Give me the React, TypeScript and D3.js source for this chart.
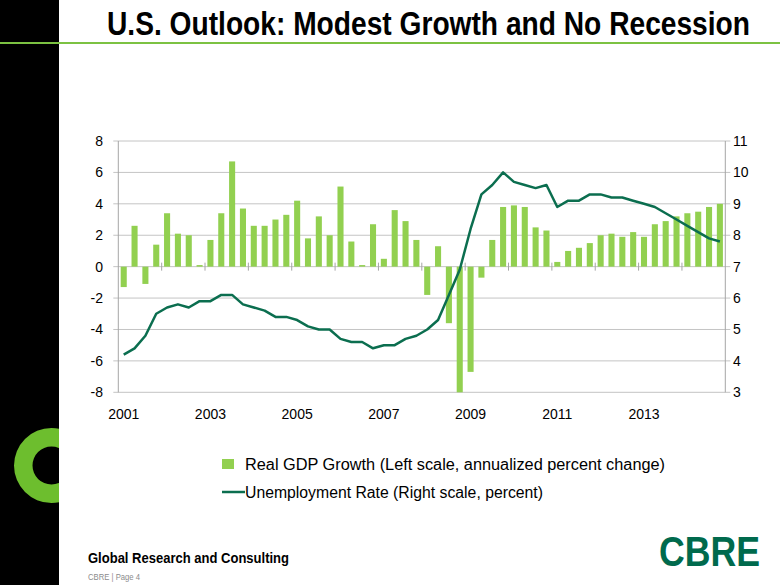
import React from "react";
import * as d3 from "d3";

const years = [2001, 2002, 2003, 2004, 2005, 2006, 2007, 2008, 2009, 2010, 2011, 2012, 2013, 2014];
const quarters: string[] = years.flatMap((y) => ["Q1", "Q2", "Q3", "Q4"].map((q) => `${y}${q}`));

// Real GDP growth, annualized percent change (left scale)
const gdpGrowth = [
  -1.3, 2.6, -1.1, 1.4,
  3.4, 2.1, 2.0, 0.1,
  1.7, 3.4, 6.7, 3.7,
  2.6, 2.6, 3.0, 3.3,
  4.2, 1.8, 3.2, 2.0,
  5.1, 1.6, 0.1, 2.7,
  0.5, 3.6, 2.9, 1.7,
  -1.8, 1.3, -3.6, -8.0,
  -6.7, -0.7, 1.7, 3.8,
  3.9, 3.8, 2.5, 2.3,
  0.3, 1.0, 1.2, 1.5,
  2.0, 2.1, 1.9, 2.2,
  1.9, 2.7, 2.9, 3.2,
  3.4, 3.5, 3.8, 4.0,
];

// Unemployment rate, percent (right scale)
const unemployment = [
  4.2, 4.4, 4.8, 5.5,
  5.7, 5.8, 5.7, 5.9,
  5.9, 6.1, 6.1, 5.8,
  5.7, 5.6, 5.4, 5.4,
  5.3, 5.1, 5.0, 5.0,
  4.7, 4.6, 4.6, 4.4,
  4.5, 4.5, 4.7, 4.8,
  5.0, 5.3, 6.1, 6.9,
  8.2, 9.3, 9.6, 10.0,
  9.7, 9.6, 9.5, 9.6,
  8.9, 9.1, 9.1, 9.3,
  9.3, 9.2, 9.2, 9.1,
  9.0, 8.9, 8.7, 8.5,
  8.3, 8.1, 7.9, 7.8,
];

const xTickLabels = ["2001", "2003", "2005", "2007", "2009", "2011", "2013"];
const leftTicks = [-8, -6, -4, -2, 0, 2, 4, 6, 8];
const rightTicks = [3, 4, 5, 6, 7, 8, 9, 10, 11];

const legendGdp = "Real GDP Growth (Left scale, annualized percent change)";
const legendUnemp = "Unemployment Rate (Right scale, percent)";
const title = "U.S. Outlook: Modest Growth and No Recession";

const W = 780;
const H = 585;
const FONT = "'Liberation Sans', Arial, sans-serif";
const BAR = "#92D050";
const LINE = "#0B6E4F";
const GRID = "#C4C4C4";
const AXIS = "#A6A6A6";

export default function App() {
  const x = d3.scaleBand<string>().domain(quarters).range([118.3, 725.3]).padding(0);
  const yL = d3.scaleLinear().domain([-8, 8]).range([392.3, 141]);
  const yR = d3.scaleLinear().domain([3, 11]).range([392.3, 141]);
  const bw = x.bandwidth();
  const barW = bw * 0.56;
  const cx = (q: string) => (x(q) as number) + bw / 2;

  const line = d3
    .line<number>()
    .x((_, i) => cx(quarters[i]))
    .y((d) => yR(d));

  const [x0, x1] = x.range();
  const zeroY = yL(0);

  // C logo ring
  const ringCx = 51.5, ringCy = 465.5, rOut = 37.5, rIn = 19;
  const ring = d3.arc()({ innerRadius: rIn, outerRadius: rOut, startAngle: 0, endAngle: Math.PI * 2 }) as string;

  const titleSx = 0.83;
  const footSx = 0.9;
  const logoSx = 0.85;

  return (
    <svg
      width={W}
      height={H}
      viewBox={`0 0 ${W} ${H}`}
      style={{ position: "absolute", left: 0, top: 0, background: "#fff", fontFamily: FONT }}
    >
      <rect x={0} y={0} width={W} height={H} fill="#fff" />
      {/* left black band */}
      <rect x={0} y={0} width={59} height={H} fill="#000" />
      <defs>
        <clipPath id="bandClip">
          <rect x={0} y={0} width={59} height={H} />
        </clipPath>
      </defs>
      <g clipPath="url(#bandClip)">
        <path d={ring} transform={`translate(${ringCx},${ringCy})`} fill="#6DBE2E" />
      </g>
      {/* title */}
      <g transform={`translate(107,35) scale(${titleSx},1)`}>
        <text x={0} y={0} fontSize={33} fontWeight="bold" fill="#000" textLength={643 / titleSx} lengthAdjust="spacingAndGlyphs">
          {title}
        </text>
      </g>
      <rect x={0} y={42} width={W} height={2} fill="#7CC242" />

      {/* gridlines */}
      {leftTicks.map((t) => (
        <line key={`g${t}`} x1={x0 - 5} x2={x1 + 5} y1={yL(t)} y2={yL(t)} stroke={GRID} strokeWidth={1} />
      ))}
      {/* axes */}
      <line x1={x0} x2={x0} y1={yL(8)} y2={yL(-8)} stroke={AXIS} strokeWidth={1} />
      <line x1={x1} x2={x1} y1={yL(8)} y2={yL(-8)} stroke={AXIS} strokeWidth={1} />

      {/* bars */}
      {gdpGrowth.map((v, i) => {
        const q = quarters[i];
        const y0 = yL(Math.max(0, v));
        const y1 = yL(Math.min(0, v));
        return <rect key={q} x={cx(q) - barW / 2} y={y0} width={barW} height={Math.max(0.8, y1 - y0)} fill={BAR} />;
      })}

      {/* category tick marks on zero line */}
      {quarters.map((q, i) =>
        i % 4 === 0 && i > 0 ? (
          <line key={`t${q}`} x1={x(q)} x2={x(q)} y1={zeroY - 4} y2={zeroY + 4} stroke={AXIS} strokeWidth={1} />
        ) : null
      )}

      {/* unemployment line */}
      <path d={line(unemployment) as string} fill="none" stroke={LINE} strokeWidth={2.5} strokeLinejoin="round" />

      {/* left tick labels */}
      {leftTicks.map((t) => (
        <text key={`l${t}`} x={103} y={yL(t) + 5} fontSize={14} textAnchor="end" fill="#000">
          {t}
        </text>
      ))}
      {/* right tick labels */}
      {rightTicks.map((t) => (
        <text key={`r${t}`} x={733} y={yR(t) + 5} fontSize={14} textAnchor="start" fill="#000">
          {t}
        </text>
      ))}
      {/* x labels */}
      {xTickLabels.map((lab) => (
        <text key={`x${lab}`} x={cx(`${lab}Q1`)} y={419} fontSize={14} textAnchor="middle" fill="#000">
          {lab}
        </text>
      ))}

      {/* legend */}
      <rect x={222} y={459} width={12} height={10} fill={BAR} />
      <text x={245} y={470} fontSize={16} fill="#000" textLength={420} lengthAdjust="spacingAndGlyphs">
        {legendGdp}
      </text>
      <line x1={222} x2={245} y1={492} y2={492} stroke={LINE} strokeWidth={2.5} />
      <text x={245} y={498} fontSize={16} fill="#000" textLength={298} lengthAdjust="spacingAndGlyphs">
        {legendUnemp}
      </text>

      {/* footer */}
      <g transform={`translate(88,563) scale(${footSx},1)`}>
        <text x={0} y={0} fontSize={14} fontWeight="bold" fill="#000" textLength={201 / footSx} lengthAdjust="spacingAndGlyphs">
          Global Research and Consulting
        </text>
      </g>
      <text x={88} y={580} fontSize={9} fill="#8C8C8C" textLength={52} lengthAdjust="spacingAndGlyphs">
        CBRE | Page 4
      </text>
      <g transform={`translate(659,566) scale(${logoSx},1)`}>
        <text x={0} y={0} fontSize={43} fontWeight="bold" fill="#006A4D" textLength={101 / logoSx} lengthAdjust="spacingAndGlyphs">
          CBRE
        </text>
      </g>
    </svg>
  );
}
